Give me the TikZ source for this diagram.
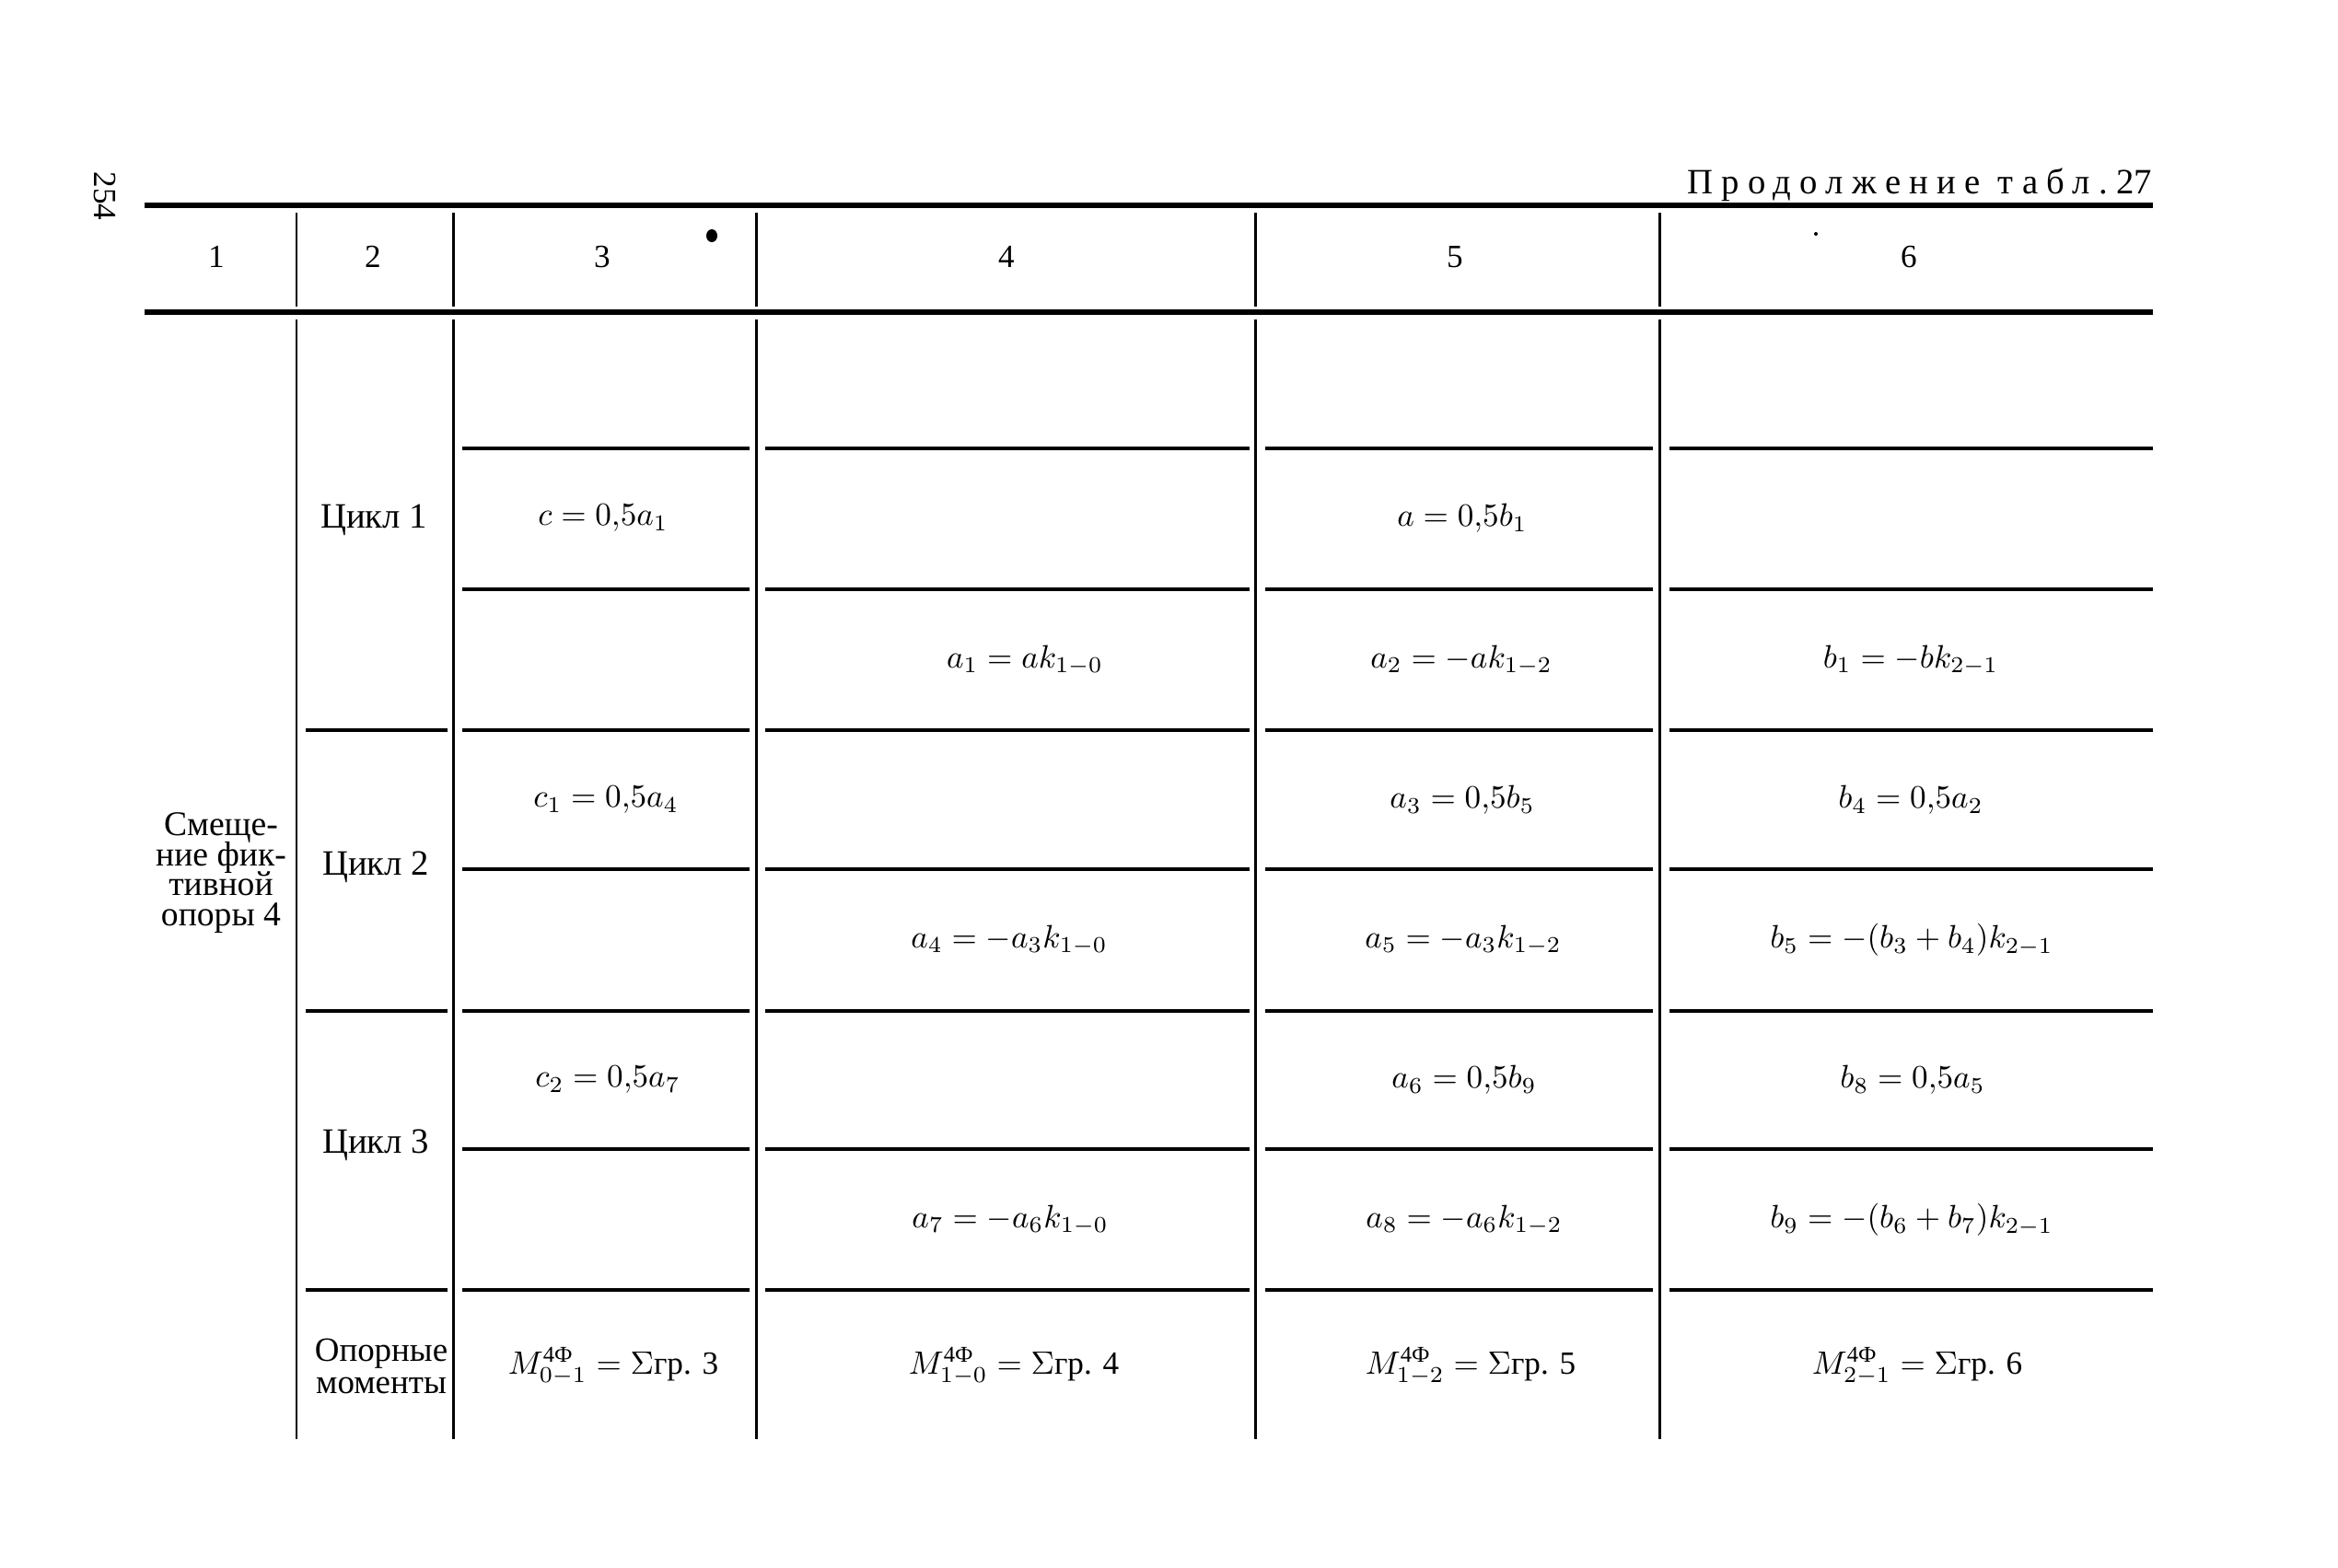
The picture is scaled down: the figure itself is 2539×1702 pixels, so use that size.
\documentclass[tikz,border=0pt]{standalone}
\usepackage{amsmath}
\usepackage{fontspec}
\setmainfont{Liberation Serif}
\newfontfamily\spacedfont[LetterSpace=24]{Liberation Serif}
\newcommand\tightlines{\lineskiplimit=-20pt\relax\lineskip=0pt\relax}
\begin{document}
\begin{tikzpicture}[x=0.01cm,y=-0.01cm,
  hrule/.style={line width=1.45pt},
  brule/.style={line width=1.15pt},
  vrule/.style={line width=0.85pt},
  lbl/.style={font=\fontsize{11}{8.9}\selectfont\tightlines, align=center, inner sep=0pt},
  hdr/.style={font=\fontsize{10}{12}\selectfont, inner sep=0pt},
  fml/.style={font=\fontsize{10}{12}\selectfont, inner sep=0pt},
]
\fill[white] (0,0) rectangle (2539,1702);
\useasboundingbox (0,0) rectangle (2539,1702);

% header rules
\draw[hrule] (157,223) -- (2338,223);
\draw[hrule] (157,339) -- (2338,339);

% vertical rules
\foreach \x in {322,492,821,1363,1802}{
  \draw[vrule] (\x,231) -- (\x,333);
  \draw[vrule] (\x,347) -- (\x,1563);
}
% body horizontal rules
\foreach \y in {487,640,793,944,1098,1248,1401}{
  \draw[brule] (502,\y) -- (814,\y);
  \draw[brule] (831,\y) -- (1357,\y);
  \draw[brule] (1374,\y) -- (1795,\y);
  \draw[brule] (1813,\y) -- (2338,\y);
}
\foreach \y in {793,1098,1401} \draw[brule] (332,\y) -- (486,\y);

% page number and caption
\node[font=\fontsize{10}{12}\selectfont, rotate=-90, inner sep=0pt] (page) at (114,213) {254};
\node[anchor=base east, inner sep=0pt, font=\fontsize{11}{13}\selectfont] (cont) at (2338,210) {{\spacedfont Продолжение табл.}\ 27};

% column numbers
\foreach \x/\t [count=\i] in {235/1,405/2,654/3,1093/4,1580/5,2073/6}
  \node[hdr] (h\i) at (\x,279) {\t};

% scan marks
\fill (773,256) ellipse (6 and 7);
\fill (1972,254) circle (2);

% left labels
\node[lbl, font=\fontsize{10.7}{9.3}\selectfont\tightlines] (smesh) at (240,948) {Смеще-\\ние фик-\\тивной\\опоры 4};
\node[lbl] (cyc1) at (406,565) {Цикл 1};
\node[lbl] (cyc2) at (408,942) {Цикл 2};
\node[lbl] (cyc3) at (408,1244) {Цикл 3};
\node[lbl, font=\fontsize{10.5}{9.8}\selectfont\tightlines] (opor) at (414,1484) {Опорные\\моменты};

% cycle 1
\node[fml] (f23) at (655,563) {$c=0{,}5a_1$};
\node[fml] (f25) at (1588,563) {$a=0{,}5b_1$};
\node[fml] (f34) at (1113,717) {$a_1=ak_{1-0}$};
\node[fml] (f35) at (1587,717) {$a_2=-ak_{1-2}$};
\node[fml] (f36) at (2075,717) {$b_1=-bk_{2-1}$};
% cycle 2
\node[fml] (f43) at (658,869) {$c_1=0{,}5a_4$};
\node[fml] (f45) at (1588,869) {$a_3=0{,}5b_5$};
\node[fml] (f46) at (2075,869) {$b_4=0{,}5a_2$};
\node[fml] (f54) at (1096,1021) {$a_4=-a_3k_{1-0}$};
\node[fml] (f55) at (1589,1021) {$a_5=-a_3k_{1-2}$};
\node[fml] (f56) at (2076,1021) {$b_5=-(b_3+b_4)k_{2-1}$};
% cycle 3
\node[fml] (f63) at (660,1173) {$c_2=0{,}5a_7$};
\node[fml] (f65) at (1590,1173) {$a_6=0{,}5b_9$};
\node[fml] (f66) at (2077,1173) {$b_8=0{,}5a_5$};
\node[fml] (f74) at (1097,1325) {$a_7=-a_6k_{1-0}$};
\node[fml] (f75) at (1590,1325) {$a_8=-a_6k_{1-2}$};
\node[fml] (f76) at (2076,1325) {$b_9=-(b_6+b_7)k_{2-1}$};
% support moments
\node[fml] (f83) at (666,1484) {$M^{\text{4Ф}}_{0-1}=\Sigma\text{гр. 3}$};
\node[fml] (f84) at (1101,1484) {$M^{\text{4Ф}}_{1-0}=\Sigma\text{гр. 4}$};
\node[fml] (f85) at (1597,1484) {$M^{\text{4Ф}}_{1-2}=\Sigma\text{гр. 5}$};
\node[fml] (f86) at (2082,1484) {$M^{\text{4Ф}}_{2-1}=\Sigma\text{гр. 6}$};
\end{tikzpicture}
\end{document}
